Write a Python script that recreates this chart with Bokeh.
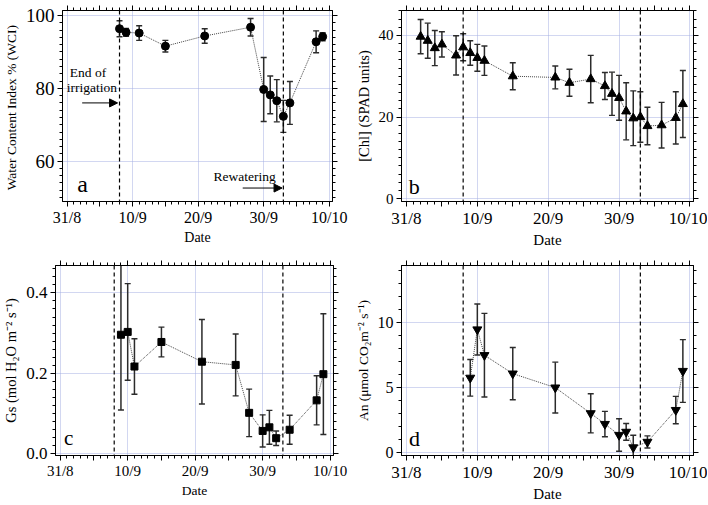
import pandas as pd
from bokeh.plotting import figure
from bokeh.models import (Range1d, FixedTicker, LinearAxis, Span, Label, Arrow,
                          NormalHead, CustomJSTickFormatter)
from bokeh.layouts import column, row
from bokeh.embed import file_html
from bokeh.resources import INLINE

YEAR = 2014
REF_DATE = "31/8"

# ---- axis ticks / events ----
x_tick_dates = ["31/8", "10/9", "20/9", "30/9", "10/10"]
x_mid_dates = ["5/9", "15/9", "25/9", "5/10"]
end_irrigation = "8/9"
rewatering = "3/10"

# ---- panel a : water content index ----
wci_dates = ["8/9", "9/9", "11/9", "15/9", "21/9", "28/9", "30/9", "1/10", "2/10",
             "3/10", "4/10", "8/10", "9/10"]
wci = [96.4, 95.4, 95.2, 91.6, 94.4, 96.8, 79.7, 78.2, 76.6, 72.3, 76.0, 92.8, 94.2]
wci_err = [2.2, 1.1, 2.0, 1.6, 2.0, 2.4, 8.8, 5.2, 5.8, 4.4, 5.9, 3.0, 1.1]

# ---- panel b : chlorophyll ----
chl_dates = ["2/9", "3/9", "4/9", "5/9", "7/9", "8/9", "9/9", "10/9", "11/9", "15/9",
             "21/9", "23/9", "26/9", "28/9", "29/9", "30/9", "1/10", "2/10", "3/10",
             "4/10", "6/10", "8/10", "9/10"]
chl = [39.7, 38.7, 36.9, 37.8, 35.1, 37.1, 35.7, 34.5, 33.8, 30.0, 29.7, 28.4, 29.3,
       27.6, 25.7, 24.7, 21.4, 19.7, 20.0, 17.8, 18.0, 19.8, 23.2]
chl_err = [4.2, 4.3, 4.3, 3.1, 4.8, 3.3, 3.0, 3.3, 3.6, 3.3, 2.8, 3.3, 5.8, 3.3, 5.3,
           5.5, 7.0, 6.7, 6.2, 4.6, 5.6, 6.4, 8.2]

# ---- panel c : stomatal conductance ----
gs_dates = ["9/9", "10/9", "11/9", "15/9", "21/9", "26/9", "28/9", "30/9", "1/10",
            "2/10", "4/10", "8/10", "9/10"]
gs = [0.296, 0.303, 0.217, 0.278, 0.229, 0.221, 0.102, 0.057, 0.066, 0.039, 0.060,
      0.133, 0.198]
gs_err = [0.187, 0.120, 0.069, 0.037, 0.105, 0.077, 0.059, 0.040, 0.042, 0.018,
          0.036, 0.061, 0.150]

# ---- panel d : net assimilation ----
an_dates = ["9/9", "10/9", "11/9", "15/9", "21/9", "26/9", "28/9", "30/9", "1/10",
            "2/10", "4/10", "8/10", "9/10"]
an = [5.75, 9.45, 7.48, 6.07, 5.0, 3.03, 2.21, 1.37, 1.61, 0.42, 0.84, 3.28, 6.27]
an_err = [1.4, 1.95, 3.2, 2.0, 1.95, 1.5, 0.97, 1.25, 0.64, 0.93, 0.46, 1.05, 2.4]

# ---- y ticks ----
a_yticks = [60, 80, 100]
a_ylabels = ["60", "80", "100"]
b_yticks = [0, 20, 40]
b_ylabels = ["0", "20", "40"]
c_yticks = [0.0, 0.2, 0.4]
c_ylabels = ["0.0", "0.2", "0.4"]
d_yticks = [0, 5, 10]
d_ylabels = ["0", "5", "10"]

FONT = "Liberation Serif"
GRID = "#a4afe3"


def to_day(s):
    d, m = (int(v) for v in s.split("/"))
    rd, rm = (int(v) for v in REF_DATE.split("/"))
    return (pd.Timestamp(YEAR, m, d) - pd.Timestamp(YEAR, rm, rd)).days


def days(lst):
    return [to_day(s) for s in lst]


X_RANGE = (-0.7, 40.5)
x_label_pos = days(x_tick_dates)
x_mid_pos = days(x_mid_dates)
x_major = sorted(x_label_pos + x_mid_pos)
x_minor = list(range(x_label_pos[0], x_label_pos[-1] + 1))


def panel(width, height, borders, yr, y_major, y_minor, y_labels, ylabel,
          ytick_fs, xtick_fs, ylab_fs, xlab_fs):
    left, right, top, bottom = borders
    p = figure(width=width, height=height, output_backend="svg", toolbar_location=None,
               x_range=Range1d(*X_RANGE), y_range=Range1d(*yr),
               min_border_left=left, min_border_right=right,
               min_border_top=top, min_border_bottom=bottom,
               x_axis_label="Date", y_axis_label=ylabel)
    p.background_fill_color = "white"
    p.border_fill_color = "white"
    p.outline_line_color = "black"
    p.outline_line_width = 1

    xt = FixedTicker(ticks=x_major, minor_ticks=x_minor)
    yt = FixedTicker(ticks=y_major, minor_ticks=y_minor)
    top_ax = LinearAxis(ticker=xt)
    right_ax = LinearAxis(ticker=yt)
    p.add_layout(top_ax, "above")
    p.add_layout(right_ax, "right")

    bx = p.below[0]
    ly = p.left[0]
    bx.ticker = xt
    ly.ticker = yt
    ov = {d: "" for d in x_mid_pos}
    ov.update({d: lab for d, lab in zip(x_label_pos, x_tick_dates)})
    bx.major_label_overrides = ov
    ly.major_label_overrides = {v: lab for v, lab in zip(y_major, y_labels)}

    for ax in (bx, ly, top_ax, right_ax):
        ax.axis_line_color = "black"
        ax.axis_line_width = 1
        ax.major_tick_out = 5
        ax.major_tick_in = 0
        ax.minor_tick_out = 3
        ax.minor_tick_in = 0
        ax.major_tick_line_color = "black"
        ax.minor_tick_line_color = "black"
        ax.major_label_text_font = FONT
        ax.axis_label_text_font = FONT
        ax.axis_label_text_font_style = "normal"
        ax.axis_label_text_color = "black"
        ax.major_label_text_color = "black"
    for ax in (top_ax, right_ax):
        ax.formatter = CustomJSTickFormatter(code="return ''")
        ax.major_label_text_font_size = "0px"
        ax.major_label_standoff = 0
        ax.axis_label_standoff = 0
        ax.axis_label = None
    bx.major_label_text_font_size = xtick_fs
    bx.axis_label_text_font_size = xlab_fs
    bx.major_label_standoff = 2
    bx.axis_label_standoff = 1
    ly.major_label_text_font_size = ytick_fs
    ly.axis_label_text_font_size = ylab_fs
    ly.major_label_standoff = 3
    ly.axis_label_standoff = 4

    p.xgrid.ticker = FixedTicker(ticks=x_label_pos)
    p.ygrid.ticker = FixedTicker(ticks=y_major)
    for g in (p.xgrid, p.ygrid):
        g.grid_line_color = GRID
        g.grid_line_dash = "1 1"
        g.grid_line_width = 1

    for ev in (end_irrigation, rewatering):
        p.add_layout(Span(location=to_day(ev), dimension="height", line_color="black",
                          line_dash="4 3", line_width=1.2))
    return p


def series(p, dates, vals, errs, marker, size):
    x = days(dates)
    lo = [v - e for v, e in zip(vals, errs)]
    hi = [v + e for v, e in zip(vals, errs)]
    p.line(x, vals, line_color="#444444", line_dash="1 1", line_width=1)
    p.segment(x, lo, x, hi, line_color="#2b2b2b", line_width=1.5)
    p.scatter(x, hi, marker="dash", size=6, line_color="#2b2b2b", line_width=1.4)
    p.scatter(x, lo, marker="dash", size=6, line_color="#2b2b2b", line_width=1.4)
    p.scatter(x, vals, marker=marker, size=size, fill_color="black", line_color="black")


def letter(p, txt, x, y, fs):
    p.add_layout(Label(x=x, y=y, text=txt, text_font=FONT, text_font_size=fs,
                       text_align="center", text_baseline="middle",
                       text_color="black"))


# ---- panel a ----
pa = panel(352, 252, (57, 20, 10, 51), (48.9, 101.4), a_yticks,
           list(range(50, 101, 2)), a_ylabels, "Water Content  Index % (WCI)",
           "19px", "16px", "13.5px", "14px")
series(pa, wci_dates, wci, wci_err, "circle", 8)
letter(pa, "a", 2.35, 53.6, "24px")
for txt, xx, yy in (("End of", 3.2, 84.4), ("irrigation", 3.8, 80.2)):
    pa.add_layout(Label(x=xx, y=yy, text=txt, text_font=FONT, text_font_size="13.5px",
                        text_align="center", text_baseline="middle", text_color="black"))
pa.add_layout(Arrow(end=NormalHead(size=8, fill_color="black", line_color="black"),
                    x_start=2.3, y_start=76.0, x_end=to_day(end_irrigation) - 0.3, y_end=76.0,
                    line_color="black", line_width=1))
pa.add_layout(Label(x=27.1, y=55.8, text="Rewatering", text_font=FONT,
                    text_font_size="13.5px", text_align="center", text_baseline="middle",
                    text_color="black"))
pa.add_layout(Arrow(end=NormalHead(size=8, fill_color="black", line_color="black"),
                    x_start=26.8, y_start=52.6, x_end=to_day(rewatering) - 0.2, y_end=52.6,
                    line_color="black", line_width=1))

# ---- panel b ----
pb = panel(355, 252, (47, 14, 8, 49), (-0.7, 46.1), b_yticks,
           list(range(0, 47, 2)), b_ylabels, "[Chl] (SPAD units)",
           "15px", "17px", "14.5px", "15px")
series(pb, chl_dates, chl, chl_err, "triangle", 9)
letter(pb, "b", 1.1, 2.9, "22px")

# ---- panel c ----
pc = panel(352, 252, (55, 19, 13, 47), (-0.004, 0.468), c_yticks,
           [round(0.02 * i, 2) for i in range(0, 24)], c_ylabels,
           "Gs (mol H\u2082O m\u207b\u00b2 s\u207b\u00b9)",
           "17px", "15px", "14.5px", "13.5px")
series(pc, gs_dates, gs, gs_err, "square", 7)
letter(pc, "c", 1.25, 0.04, "21px")

# ---- panel d ----
pd_ = panel(355, 252, (49, 14, 13, 47), (-0.2, 14.35), d_yticks,
            list(range(0, 15)), d_ylabels,
            "An (\u03bcmol CO\u2082m\u207b\u00b2 s\u207b\u00b9)",
            "16px", "17px", "13.5px", "15px")
series(pd_, an_dates, an, an_err, "inverted_triangle", 9)
letter(pd_, "d", 1.15, 1.1, "22px")

layout = column(row(pa, pb), row(pc, pd_))

open("out.html", "w").write(file_html(layout, INLINE))
